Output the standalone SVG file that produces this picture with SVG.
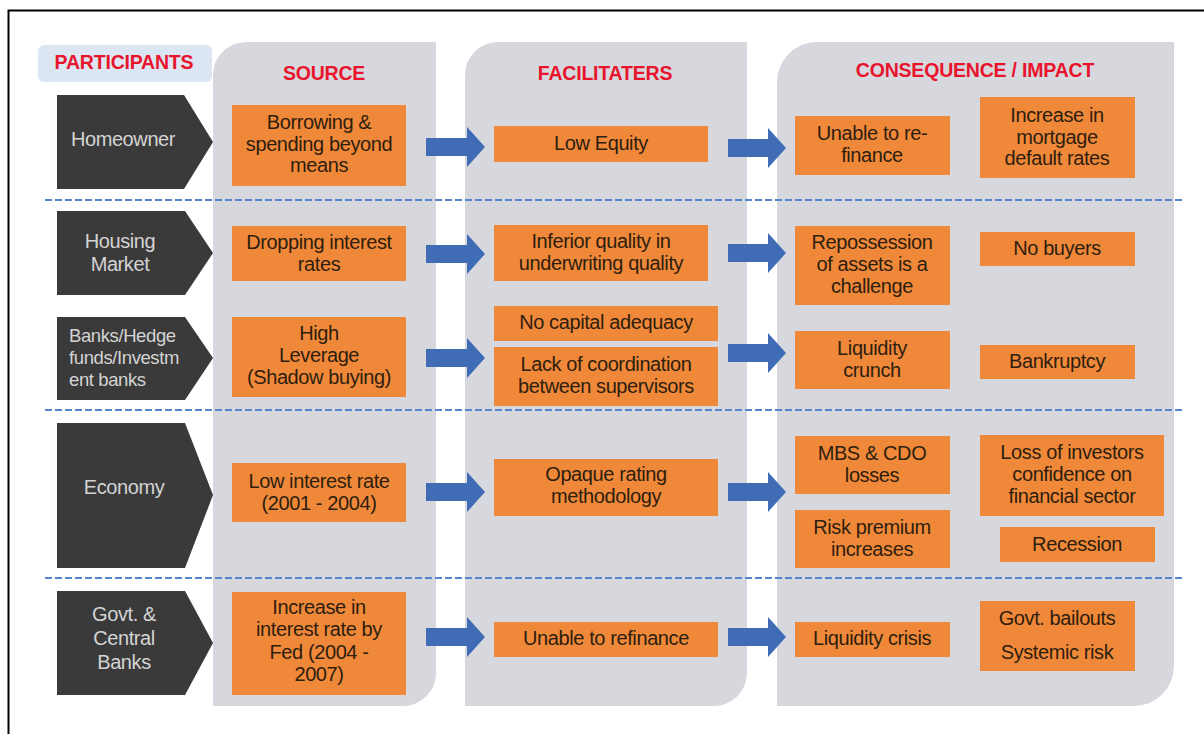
<svg xmlns="http://www.w3.org/2000/svg" width="1204" height="734" viewBox="0 0 1204 734">
  <defs>
    <style>
      .panel { fill: #d6d8de; }
      .box { fill: #f0883a; }
      .chev { fill: #3a3a3a; }
      .arrow { fill: #3f6cb5; }
      .sep { stroke: #5585cb; stroke-width: 2; stroke-dasharray: 7 3; fill: none; }
      .hdr { font-family: "Liberation Sans", Arial, sans-serif; font-weight: bold; font-size: 19.5px; fill: #e8142c; text-anchor: middle; letter-spacing: -0.2px; }
      .t { font-family: "Liberation Sans", Arial, sans-serif; font-size: 20px; fill: #2e1e0e; text-anchor: middle; letter-spacing: -0.4px; }
      .c { font-family: "Liberation Sans", Arial, sans-serif; font-size: 20px; fill: #d4d4d4; text-anchor: middle; letter-spacing: -0.4px; }
      .cl { font-family: "Liberation Sans", Arial, sans-serif; font-size: 18.5px; fill: #d4d4d4; letter-spacing: -0.4px; }
    </style>
  </defs>

  <rect width="1204" height="734" fill="#ffffff"/>
  <!-- outer frame -->
  <rect x="8.5" y="10.5" width="1300" height="800" fill="none" stroke="#000" stroke-width="2"/>

  <!-- column panels -->
  <g id="panels">
    <path class="panel" d="M213,75 A33,33 0 0 1 246,42 L436,42 L436,673 A33,33 0 0 1 403,706 L213,706 Z"/>
    <path class="panel" d="M465,75 A33,33 0 0 1 498,42 L747,42 L747,673 A33,33 0 0 1 714,706 L465,706 Z"/>
    <path class="panel" d="M777,82 A40,40 0 0 1 817,42 L1174,42 L1174,666 A40,40 0 0 1 1134,706 L777,706 Z"/>
  </g>

  <!-- headers -->
  <g id="header-participants">
    <rect x="38" y="45" width="174" height="37" rx="6" fill="#dce6f2"/>
    <text class="hdr" x="124" y="69">PARTICIPANTS</text>
  </g>
  <text id="header-source" class="hdr" x="324" y="80">SOURCE</text>
  <text id="header-facilitaters" class="hdr" x="605" y="80">FACILITATERS</text>
  <text id="header-consequence" class="hdr" x="975" y="77">CONSEQUENCE / IMPACT</text>

  <!-- row separators -->
  <g id="separators">
    <line class="sep" x1="45" y1="200" x2="1183" y2="200"/>
    <line class="sep" x1="45" y1="410" x2="1183" y2="410"/>
    <line class="sep" x1="45" y1="578" x2="1183" y2="578"/>
  </g>

  <!-- participants -->
  <g id="p-homeowner">
    <polygon class="chev" points="57,95 184,95 213,142 184,189 57,189"/>
    <text class="c" x="123" y="146">Homeowner</text>
  </g>
  <g id="p-housing">
    <polygon class="chev" points="57,211 185,211 213,253 185,295 57,295"/>
    <text class="c" x="120" y="248">Housing</text>
    <text class="c" x="120" y="271">Market</text>
  </g>
  <g id="p-banks">
    <polygon class="chev" points="57,317 185,317 213,358 185,400 57,400"/>
    <text class="cl" x="69" y="342">Banks/Hedge</text>
    <text class="cl" x="69" y="364">funds/Investm</text>
    <text class="cl" x="69" y="386">ent banks</text>
  </g>
  <g id="p-economy">
    <polygon class="chev" points="57,423 185,423 213,495 185,568 57,568"/>
    <text class="c" x="124" y="494">Economy</text>
  </g>
  <g id="p-govt">
    <polygon class="chev" points="57,591 185,591 213,643 185,695 57,695"/>
    <text class="c" x="124" y="621">Govt. &amp;</text>
    <text class="c" x="124" y="645">Central</text>
    <text class="c" x="124" y="669">Banks</text>
  </g>

  <!-- source column -->
  <g id="s-borrowing">
    <rect class="box" x="232" y="105" width="174" height="81"/>
    <text class="t" x="319" y="129">Borrowing &amp;</text>
    <text class="t" x="319" y="151">spending beyond</text>
    <text class="t" x="319" y="172">means</text>
  </g>
  <g id="s-dropping">
    <rect class="box" x="232" y="226" width="174" height="55"/>
    <text class="t" x="319" y="249">Dropping interest</text>
    <text class="t" x="319" y="271">rates</text>
  </g>
  <g id="s-leverage">
    <rect class="box" x="232" y="317" width="174" height="80"/>
    <text class="t" x="319" y="340">High</text>
    <text class="t" x="319" y="362">Leverage</text>
    <text class="t" x="319" y="384">(Shadow buying)</text>
  </g>
  <g id="s-lowrate">
    <rect class="box" x="232" y="463" width="174" height="59"/>
    <text class="t" x="319" y="488">Low interest rate</text>
    <text class="t" x="319" y="510">(2001 - 2004)</text>
  </g>
  <g id="s-fed">
    <rect class="box" x="232" y="592" width="174" height="103"/>
    <text class="t" x="319" y="614">Increase in</text>
    <text class="t" x="319" y="636">interest rate by</text>
    <text class="t" x="319" y="659">Fed (2004 -</text>
    <text class="t" x="319" y="681">2007)</text>
  </g>

  <!-- facilitaters column -->
  <g id="f-equity">
    <rect class="box" x="494" y="126" width="214" height="36"/>
    <text class="t" x="601" y="150">Low Equity</text>
  </g>
  <g id="f-underwriting">
    <rect class="box" x="494" y="225" width="214" height="56"/>
    <text class="t" x="601" y="248">Inferior quality in</text>
    <text class="t" x="601" y="270">underwriting quality</text>
  </g>
  <g id="f-capital">
    <rect class="box" x="494" y="306" width="224" height="35"/>
    <text class="t" x="606" y="329">No capital adequacy</text>
  </g>
  <g id="f-coordination">
    <rect class="box" x="494" y="347" width="224" height="59"/>
    <text class="t" x="606" y="371">Lack of coordination</text>
    <text class="t" x="606" y="393">between supervisors</text>
  </g>
  <g id="f-rating">
    <rect class="box" x="494" y="459" width="224" height="57"/>
    <text class="t" x="606" y="481">Opaque rating</text>
    <text class="t" x="606" y="503">methodology</text>
  </g>
  <g id="f-refinance">
    <rect class="box" x="494" y="622" width="224" height="35"/>
    <text class="t" x="606" y="645">Unable to refinance</text>
  </g>

  <!-- consequence column -->
  <g id="c-refinance">
    <rect class="box" x="795" y="116" width="155" height="59"/>
    <text class="t" x="872" y="140">Unable to re-</text>
    <text class="t" x="872" y="162">finance</text>
  </g>
  <g id="c-default">
    <rect class="box" x="980" y="97" width="155" height="81"/>
    <text class="t" x="1057" y="122">Increase in</text>
    <text class="t" x="1057" y="144">mortgage</text>
    <text class="t" x="1057" y="165">default rates</text>
  </g>
  <g id="c-repossession">
    <rect class="box" x="795" y="226" width="155" height="79"/>
    <text class="t" x="872" y="249">Repossession</text>
    <text class="t" x="872" y="271">of assets is a</text>
    <text class="t" x="872" y="293">challenge</text>
  </g>
  <g id="c-buyers">
    <rect class="box" x="980" y="232" width="155" height="34"/>
    <text class="t" x="1057" y="255">No buyers</text>
  </g>
  <g id="c-crunch">
    <rect class="box" x="795" y="331" width="155" height="58"/>
    <text class="t" x="872" y="355">Liquidity</text>
    <text class="t" x="872" y="377">crunch</text>
  </g>
  <g id="c-bankruptcy">
    <rect class="box" x="980" y="345" width="155" height="34"/>
    <text class="t" x="1057" y="368">Bankruptcy</text>
  </g>
  <g id="c-mbs">
    <rect class="box" x="795" y="436" width="155" height="58"/>
    <text class="t" x="872" y="460">MBS &amp; CDO</text>
    <text class="t" x="872" y="482">losses</text>
  </g>
  <g id="c-confidence">
    <rect class="box" x="980" y="435" width="184" height="81"/>
    <text class="t" x="1072" y="459">Loss of investors</text>
    <text class="t" x="1072" y="481">confidence on</text>
    <text class="t" x="1072" y="503">financial sector</text>
  </g>
  <g id="c-risk">
    <rect class="box" x="795" y="510" width="155" height="58"/>
    <text class="t" x="872" y="534">Risk premium</text>
    <text class="t" x="872" y="556">increases</text>
  </g>
  <g id="c-recession">
    <rect class="box" x="1000" y="527" width="155" height="35"/>
    <text class="t" x="1077" y="551">Recession</text>
  </g>
  <g id="c-crisis">
    <rect class="box" x="795" y="622" width="155" height="35"/>
    <text class="t" x="872" y="645">Liquidity crisis</text>
  </g>
  <g id="c-bailouts">
    <rect class="box" x="980" y="601" width="155" height="70"/>
    <text class="t" x="1057" y="625">Govt. bailouts</text>
    <text class="t" x="1057" y="659">Systemic risk</text>
  </g>

  <!-- connectors: block arrows -->
  <g id="connectors">
    <polygon class="arrow" points="426,138 467,138 467,127 485,147 467,167 467,156 426,156"/>
    <polygon class="arrow" points="728,139 768,139 768,128 786,148 768,168 768,157 728,157"/>
    <polygon class="arrow" points="426,245 467,245 467,234 485,254 467,274 467,263 426,263"/>
    <polygon class="arrow" points="728,244 768,244 768,233 786,253 768,273 768,262 728,262"/>
    <polygon class="arrow" points="426,349 467,349 467,338 485,358 467,378 467,367 426,367"/>
    <polygon class="arrow" points="728,344 768,344 768,333 786,353 768,373 768,362 728,362"/>
    <polygon class="arrow" points="426,483 467,483 467,472 485,492 467,512 467,501 426,501"/>
    <polygon class="arrow" points="728,483 768,483 768,472 786,492 768,512 768,501 728,501"/>
    <polygon class="arrow" points="426,628 467,628 467,617 485,637 467,657 467,646 426,646"/>
    <polygon class="arrow" points="728,628 768,628 768,617 786,637 768,657 768,646 728,646"/>
  </g>
</svg>
